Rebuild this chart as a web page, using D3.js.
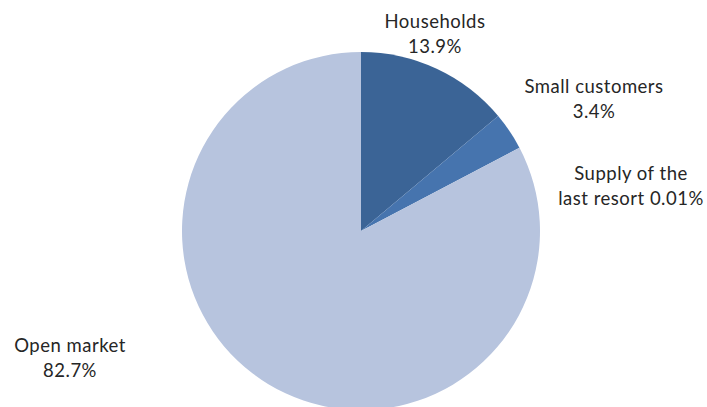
<!DOCTYPE html>
<html><head><meta charset="utf-8">
<script src="https://cdn.jsdelivr.net/npm/d3@7"></script>
<style>html,body{margin:0;padding:0;background:#fff;overflow:hidden}</style>
</head><body>
<svg id="c" width="707" height="407"></svg>
<script>
const categories = ["Households", "Small customers", "Supply of the last resort", "Open market"];
const values = [13.9, 3.4, 0.01, 82.7];
const valueLabels = ["13.9%", "3.4%", "0.01%", "82.7%"];
const colors = ["#3B6496", "#4674AE", "#4F81BD", "#B7C4DE"];
const labelLines = [
  ["Households", "13.9%"],
  ["Small customers", "3.4%"],
  ["Supply of the", "last resort 0.01%"],
  ["Open market", "82.7%"]
];

const svg = d3.select("#c");
const cx = 361, cy = 231, r = 179;
const g = svg.append("g").attr("transform", `translate(${cx},${cy})`);
const pie = d3.pie().sort(null).value(d => d)(values);
const arc = d3.arc().innerRadius(0).outerRadius(r);
g.selectAll("path").data(pie).join("path")
  .attr("d", arc)
  .attr("fill", (d, i) => colors[i]);

// label anchor positions (centre of text block, first baseline), relative to pie centre
const labelPos = [[74, -203], [233, -138], [270, -51], [-291, 121]];
const lh = 24.5;
pie.forEach((d, i) => {
  const t = g.append("text")
    .attr("text-anchor", "middle")
    .attr("font-family", "Lato, 'Open Sans', sans-serif")
    .attr("font-size", 18.5)
    .attr("letter-spacing", "0.5px")
    .attr("fill", "#262626");
  labelLines[i].forEach((ln, j) => {
    t.append("tspan").attr("x", labelPos[i][0]).attr("y", labelPos[i][1] + j * lh).text(ln);
  });
});
</script>
</body></html>
